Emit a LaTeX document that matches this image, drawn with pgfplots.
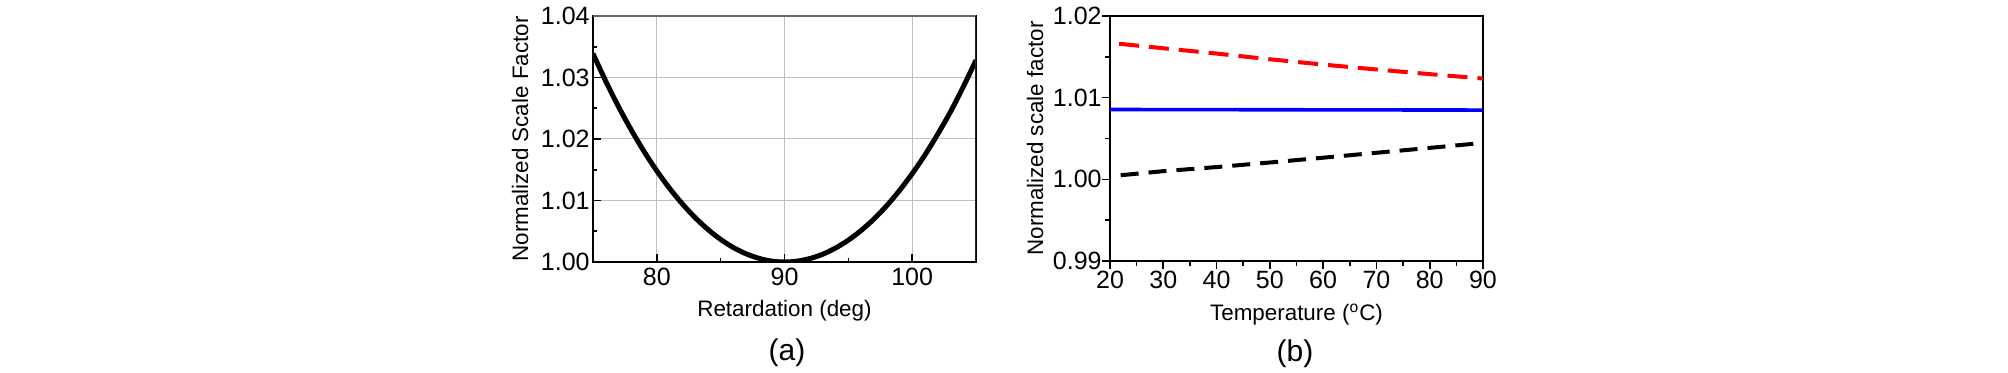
\documentclass[border=0pt]{standalone}
\usepackage{fontspec}
\setmainfont{Liberation Sans}
\usepackage{pgfplots}
\pgfplotsset{compat=1.18}
\begin{document}
\begin{tikzpicture}[x=1pt,y=1pt]
\path[use as bounding box] (0pt,0pt) rectangle (1004pt,186.5pt);
\pgfplotsset{
  common/.style={
    scale only axis,
    /pgf/number format/assume math mode=true,
    ticklabel style={font=\fontsize{12.5}{14}\selectfont, inner sep=0pt},
    axis line style={line width=1pt},
    every tick/.style={black, line width=0.8pt},
    xtick pos=left, ytick pos=left,
  }
}
% ---------- panel (a)
\begin{axis}[common,
  at={(296.5pt,55.5pt)}, anchor=south west,
  width=191.5pt, height=123pt,
  xmin=75, xmax=105, ymin=1.00, ymax=1.04,
  xtick={80,90,100}, ytick={1.00,1.01,1.02,1.03,1.04},
  minor x tick num=1, minor y tick num=1,
  yticklabel style={/pgf/number format/fixed, /pgf/number format/fixed zerofill, /pgf/number format/precision=2, xshift=-1.5pt},
  xticklabel style={yshift=-3pt},
  tick align=inside,
  major tick length=4pt, minor tick length=2pt,
  grid=major, major grid style={line width=0.5pt, color=black!25},
  xlabel={Retardation (deg)}, ylabel={Normalized Scale Factor},
  every axis x label/.style={at={(axis description cs:0.5,-0.222)}, anchor=base, font=\fontsize{11.2}{13}\selectfont},
  every axis y label/.style={at={(axis description cs:-0.19,0.5)}, anchor=center, rotate=90, font=\fontsize{11.2}{13}\selectfont},
]
\addplot[black, line width=2.5pt, smooth] coordinates {
(75,1.03387)(76,1.02939)(77,1.02525)(78,1.02145)(79,1.01797)(80,1.01481)
(81,1.01197)(82,1.00944)(83,1.00721)(84,1.00529)(85,1.00367)(86,1.00234)
(87,1.00132)(88,1.00059)(89,1.00014)(90,1.00000)(91,1.00014)(92,1.00057)
(93,1.00127)(94,1.00227)(95,1.00355)(96,1.00512)(97,1.00698)(98,1.00914)
(99,1.01160)(100,1.01436)(101,1.01740)(102,1.02078)(103,1.02441)(104,1.02847)(105,1.03281)
};
\draw[black!60, line width=1pt] (rel axis cs:0,1) -- (rel axis cs:1,1);
\draw[black!85, line width=1pt] (rel axis cs:1,1) -- (rel axis cs:1,0);
\end{axis}
\node[font=\fontsize{15}{17}\selectfont, anchor=center] at (393.5pt,10pt) {(a)};
% ---------- panel (b)
\begin{axis}[common,
  at={(555pt,56pt)}, anchor=south west,
  width=186.5pt, height=122.5pt,
  xmin=20, xmax=90, ymin=0.99, ymax=1.02,
  xtick={20,30,...,90}, ytick={0.99,1.00,1.01,1.02},
  minor x tick num=1, minor y tick num=1,
  yticklabel style={/pgf/number format/fixed, /pgf/number format/fixed zerofill, /pgf/number format/precision=2},
  xticklabel style={yshift=-1pt},
  tick align=outside,
  major tick length=4pt, minor tick length=2.5pt,
  xlabel={Temperature ($^{\mathrm{o}}$C)}, ylabel={Normalized scale factor},
  every axis x label/.style={at={(axis description cs:0.5,-0.241)}, anchor=base, font=\fontsize{11.2}{13}\selectfont},
  every axis y label/.style={at={(axis description cs:-0.201,0.5)}, anchor=center, rotate=90, font=\fontsize{11.2}{13}\selectfont},
]
\addplot[red, line width=2pt, dash pattern=on 10pt off 5pt] coordinates {
(21.7,1.01660)(30,1.01605)(40,1.01540)(50,1.01470)(60,1.01405)(70,1.01345)(80,1.01288)(90,1.01234)
};
\addplot[blue, line width=1.8pt] coordinates {
(20,1.00855)(50,1.00852)(90,1.00848)
};
\addplot[black, line width=2pt, dash pattern=on 9pt off 5pt] coordinates {
(22,1.00050)(30,1.00100)(40,1.00150)(50,1.00206)(60,1.00265)(70,1.00325)(80,1.00385)(90,1.00446)
};
\end{axis}
\node[font=\fontsize{15}{17}\selectfont, anchor=center] at (647.5pt,9.5pt) {(b)};
\end{tikzpicture}
\end{document}
